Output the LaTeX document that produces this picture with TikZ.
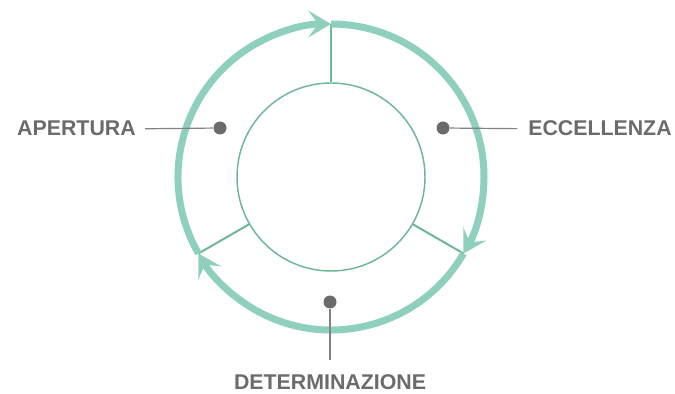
\documentclass[tikz,border=0pt]{standalone}
\usepackage{fontspec}
\setmainfont{Liberation Sans}
\usetikzlibrary{arrows.meta}
\definecolor{ringgreen}{HTML}{8ECFBE}
\definecolor{coregreen}{HTML}{6DB797}
\definecolor{labelgray}{HTML}{6B6B6B}
\tikzstyle{ring}=[draw=ringgreen,line width=5.25pt]
\tikzstyle{cyclearrow}=[-{Stealth[length=17pt,width=20pt,inset=7.5pt]}]
\tikzstyle{spoke}=[draw=coregreen,line width=1.5pt]
\tikzstyle{dot}=[circle,fill=labelgray,inner sep=0pt,minimum size=9.75pt]
\tikzstyle{lead}=[draw=labelgray!85,line width=0.9pt]
\tikzstyle{label}=[text=labelgray,font=\bfseries\fontsize{16}{18}\selectfont,inner ysep=0pt]

\begin{document}
\begin{tikzpicture}[x=.75pt, y=.75pt]

	\useasboundingbox (0,0) rectangle (675,393);

	\coordinate (c) at (331,216);
	\coordinate (top) at ([shift={(90:153)}]c);
	\coordinate (right) at ([shift={(-30:153)}]c);
	\coordinate (left) at ([shift={(210:153)}]c);

	% inner circle and spokes
	\node[circle,draw=coregreen,line width=1.1pt,minimum size=141pt] (core) at (c) {};
	\draw[spoke] (core.90) -- (top);
	\draw[spoke] (core.-30) -- (right);
	\draw[spoke] (core.210) -- (left);

	% outer ring
	\draw[ring,cyclearrow] (left) arc[start angle=210,end angle=90,radius=153];
	\draw[ring,cyclearrow] (top) arc[start angle=90,end angle=-30,radius=153];
	\draw[ring,cyclearrow] (right) arc[start angle=-30,end angle=-150,radius=153];

	% labels
	\node[dot] (dotA) at (220,265) {};
	\node[dot] (dotE) at (443,265) {};
	\node[dot] (dotD) at (330,91) {};
	\node[label,anchor=base east,inner xsep=6.75pt] (apertura) at (145,257) {APERTURA};
	\node[label,anchor=base west,inner xsep=8.25pt] (eccellenza) at (517,257) {ECCELLENZA};
	\node[label,anchor=base,inner ysep=11pt] (determinazione) at (330,3.5) {DETERMINAZIONE};
	\draw[lead] (apertura.east) -- (dotA);
	\draw[lead] (dotE) -- (eccellenza.west);
	\draw[lead] (dotD) -- (dotD |- determinazione.north);
\end{tikzpicture}
\end{document}
